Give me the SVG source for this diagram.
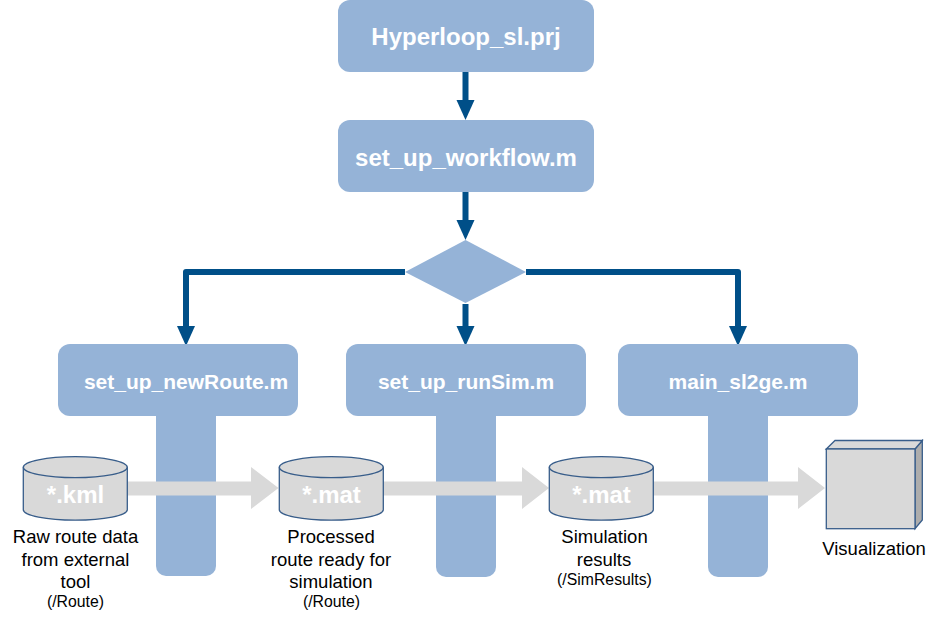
<svg xmlns="http://www.w3.org/2000/svg" width="947" height="621" viewBox="0 0 947 621">
<style>
text{font-family:"Liberation Sans",Arial,sans-serif;text-anchor:middle}
.n{fill:#95b3d7}
.t{fill:#fff;font-weight:bold;font-size:21px}
.b{fill:#fff;font-weight:bold;font-size:24px}
.c{fill:#d9d9d9;stroke:#385d8a;stroke-width:1.3}
.o{fill:none;stroke:#385d8a;stroke-width:1.3}
.l{fill:#000;font-size:18.500px}
.s{fill:#000;font-size:15.800px}
.x{fill:#fff;font-weight:bold;font-size:24px}
.w{fill:none;stroke:#004f88;stroke-width:6;stroke-linejoin:round}
.h{fill:#004f88}
.a{fill:#d9d9d9}
</style>
<defs>
<g id="cyl"><path class="c" d="M0 10.500C0 4.700 23.300 0 52 0S104 4.700 104 10.500V53C104 58.800 80.700 63.500 52 63.500S0 58.800 0 53Z"/><path class="o" d="M0 10.500C0 16.300 23.300 21 52 21S104 16.300 104 10.500"/></g>
</defs>
<g id="bars">
<rect class="n" x="156" y="380" width="60" height="196" rx="10"/>
<rect class="n" x="436" y="380" width="60" height="197" rx="10"/>
<rect class="n" x="708" y="380" width="60" height="197" rx="10"/>
</g>
<g id="connectors">
<path class="w" d="M465.500 72V101"/><path class="h" d="M456.500 100H474.500L465.500 120Z"/>
<path class="w" d="M465.500 192V221"/><path class="h" d="M456.500 220H474.500L465.500 240Z"/>
<path class="w" d="M465.500 304V326"/><path class="h" d="M456.500 326H474.500L465.500 346Z"/>
<path class="w" d="M405 272H186V326"/><path class="h" d="M177 326H195L186 346Z"/>
<path class="w" d="M526 272H738V326"/><path class="h" d="M729 326H747L738 346Z"/>
</g>
<g id="node-prj"><rect class="n" x="338" y="0" width="256" height="72" rx="12"/><text class="b" x="466" y="45">Hyperloop_sl.prj</text></g>
<g id="node-workflow"><rect class="n" x="338" y="120" width="256" height="72" rx="12"/><text class="b" x="466" y="166">set_up_workflow.m</text></g>
<g id="node-decision"><path class="n" d="M465.500 240L526 272L465.500 303L405 272Z"/></g>
<g id="node-newroute"><rect class="n" x="58" y="344" width="240" height="72" rx="12"/><text class="t" x="186" y="389">set_up_newRoute.m</text></g>
<g id="node-runsim"><rect class="n" x="346" y="344" width="240" height="72" rx="12"/><text class="t" x="466" y="389">set_up_runSim.m</text></g>
<g id="node-sl2ge"><rect class="n" x="618" y="344" width="240" height="72" rx="12"/><text class="t" x="738" y="389">main_sl2ge.m</text></g>
<g id="flow-arrows">
<path class="a" d="M127 481.500H251V467L278.500 488L251 509V495.500H127Z"/>
<path class="a" d="M383 481.500H522V467L549 488L522 509V495.500H383Z"/>
<path class="a" d="M653 481.500H798V467L825 488L798 509V495.500H653Z"/>
</g>
<g id="node-kml"><use href="#cyl" x="23.300" y="456.700"/><text class="x" x="75.500" y="503">*.kml</text>
<text class="l" x="75.500" y="543">Raw route data</text><text class="l" x="75.500" y="566">from external</text><text class="l" x="75.500" y="588">tool</text><text class="s" x="75.500" y="607">(/Route)</text></g>
<g id="node-mat1"><use href="#cyl" x="279.300" y="456.700"/><text class="x" x="331.500" y="503">*.mat</text>
<text class="l" x="331" y="543">Processed</text><text class="l" x="331" y="566">route ready for</text><text class="l" x="331" y="588">simulation</text><text class="s" x="331.500" y="607">(/Route)</text></g>
<g id="node-mat2"><use href="#cyl" x="549.300" y="456.700"/><text class="x" x="601.500" y="503">*.mat</text>
<text class="l" x="604.500" y="543">Simulation</text><text class="l" x="604" y="566">results</text><text class="s" x="604.500" y="585">(/SimResults)</text></g>
<g id="node-visual">
<path d="M915 449L922.300 440.500V520L915 528.700Z" fill="#adadad" stroke="#385d8a" stroke-width="1.300"/>
<path class="c" d="M826.300 449L835 440.500H922.300L915 449Z"/>
<rect class="c" x="826.300" y="449" width="88.700" height="79.700"/>
<text class="l" x="874" y="555">Visualization</text></g>
</svg>
